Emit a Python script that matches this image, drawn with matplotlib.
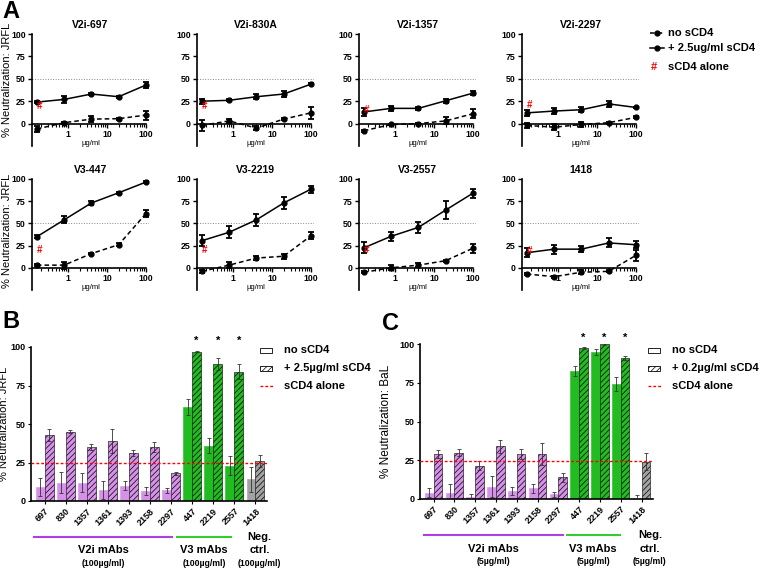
import matplotlib
matplotlib.use("Agg")
import matplotlib.pyplot as plt
import numpy as np
from matplotlib.lines import Line2D
from matplotlib.patches import Rectangle
from matplotlib.ticker import LogLocator, NullFormatter, FixedLocator, FixedFormatter
import matplotlib.transforms as mtrans

plt.rcParams['font.family'] = ['Liberation Sans', 'DejaVu Sans']
plt.rcParams['font.weight'] = 'bold'
plt.rcParams['hatch.linewidth'] = 0.5

# ---- panel A data ----
conc = [0.16, 0.8, 4, 20, 100]
titles = ['V2i-697', 'V2i-830A', 'V2i-1357', 'V2i-2297',
          'V3-447', 'V3-2219', 'V3-2557', '1418']
no_scd4 = [[-6, 1, 5, 5.5, 9.5],
           [-2, 3, -5, 5, 12],
           [-8, -1, 0, 3, 11],
           [-2, -4, -1, 1, 7],
           [3, 3, 16, 26, 61],
           [-4, 3, 11, 13, 36],
           [-5, 0, 3, 8, 22],
           [-7, -10, -5, -4, 14]]
no_scd4_err = [[3, 1, 3, 1, 5],
               [6, 2, 2, 1, 7],
               [1, 1, 1, 4, 5],
               [3, 3, 3, 1, 1],
               [1, 4, 1, 2, 4],
               [2, 3, 2, 3, 4],
               [1, 3, 2, 1, 5],
               [1, 1, 2, 1, 6]]
plus_scd4 = [[24, 27, 33, 30, 43],
             [25, 26, 30, 33, 44],
             [13, 17, 17, 25.5, 34],
             [12, 14, 15.5, 22, 18],
             [35, 54, 73, 84.5, 96.5],
             [30.5, 40, 54, 73, 88.5],
             [22.5, 35.5, 45.5, 65, 84],
             [17, 21, 21, 28, 26]]
plus_scd4_err = [[1, 4, 1, 1, 3],
                 [3, 1, 3, 3, 1],
                 [4, 3, 2, 2, 2],
                 [3, 3, 3, 3, 1],
                 [2, 4, 2, 1, 1],
                 [6, 7, 7, 7, 4],
                 [6, 5, 6, 10, 5],
                 [5, 5, 3, 5, 4]]
scd4_alone_a = [20, 20, 15, 21, 20, 19.5, 20, 19]

# ---- panel B / C data ----
mabs = ['697', '830', '1357', '1361', '1393', '2158', '2297',
        '447', '2219', '2557', '1418']
b_no = [9, 12, 12, 7, 10, 6.5, 7, 61, 36, 23, 14]
b_no_err = [6, 7, 6, 6, 3, 2.5, 1.5, 5, 5, 6, 8]
b_plus = [43, 45, 35, 39, 31, 35, 18, 97, 89, 84, 26]
b_plus_err = [4, 0.8, 2, 8, 2, 3, 1, 0.5, 4, 5, 4]
b_alone = 24.5
c_no = [4, 4, 1, 8, 5, 7, 3, 82.5, 95, 74, 0]
c_no_err = [3, 6, 2.5, 7, 2.5, 3, 1.5, 3, 2, 4.5, 2.5]
c_plus = [29, 30, 21.5, 34, 29, 29, 14, 97.5, 100, 91, 24]
c_plus_err = [2.5, 2.5, 3, 4, 3, 7, 3, 0.5, 0.5, 1.5, 5.5]
c_alone = 24.5
star_idx = [7, 8, 9]

purple = '#d591e8'
green = '#22bb22'
gray = '#a3a3a3'
bar_colors = [purple] * 7 + [green] * 3 + [gray]

W, H = 760, 569
fig = plt.figure(figsize=(7.6, 5.69), dpi=100)


def fx(px):
    return px / W


def fy(py):
    return 1 - py / H


# ---------------- panel A ----------------
col_left = [32, 197, 359, 522]
row_top = [34, 179]
row_bot = [146, 290]
ylab_y = [0.59, 0.53]
for i, t in enumerate(titles):
    r, c = divmod(i, 4)
    ax = fig.add_axes([fx(col_left[c]), fy(row_bot[r]), fx(117),
                       (row_bot[r] - row_top[r]) / H])
    ax.set_xscale('log')
    ax.set_xlim(0.12, 120)
    ax.set_ylim(-25, 100)
    ax.spines['top'].set_visible(False)
    ax.spines['right'].set_visible(False)
    ax.spines['bottom'].set_position(('data', 0))
    ax.spines['bottom'].set_bounds(0.12, 100)
    ax.spines['left'].set_linewidth(1.2)
    ax.spines['bottom'].set_linewidth(1.2)
    ax.axhline(50, color='#888888', lw=0.7, ls=':', zorder=1)
    ax.errorbar(conc, no_scd4[i], yerr=no_scd4_err[i], color='black',
                lw=1.1, ls=(0, (3, 2)), marker='o', ms=3.5, capsize=2.2,
                elinewidth=1.3, capthick=1.3, clip_on=False, zorder=3)
    ax.errorbar(conc, plus_scd4[i], yerr=plus_scd4_err[i], color='black',
                lw=1.1, ls='-', marker='o', ms=3.5, capsize=2.2,
                elinewidth=1.3, capthick=1.3, clip_on=False, zorder=3)
    ax.text(0.185, scd4_alone_a[i], '#', color='red', fontsize=7,
            ha='center', va='center', zorder=4)
    ax.set_yticks([0, 25, 50, 75, 100])
    ax.xaxis.set_major_locator(FixedLocator([1, 10, 100]))
    ax.xaxis.set_major_formatter(FixedFormatter(['1', '10', '100']))
    ax.xaxis.set_minor_locator(LogLocator(base=10, subs=np.arange(2, 10)))
    ax.xaxis.set_minor_formatter(NullFormatter())
    ax.tick_params(axis='both', which='major', labelsize=6.3, length=3,
                   width=1, pad=1.5)
    ax.tick_params(axis='x', which='minor', length=2, width=0.8)
    ax.set_xlabel('µg/ml', fontsize=5.5, labelpad=1)
    ax.set_title(t, fontsize=7.5, fontweight='bold', pad=4)
    if c == 0:
        ax.set_ylabel('% Neutralization: JRFL', fontsize=8)
        ax.yaxis.set_label_coords(-0.17, ylab_y[r])

# panel A legend
leg_y = [33, 48, 67]
fig.add_artist(Line2D([fx(650), fx(664)], [fy(leg_y[0])] * 2, color='black',
                      lw=1.1, ls=(0, (3, 2)), transform=fig.transFigure))
fig.add_artist(Line2D([fx(657)], [fy(leg_y[0])], color='black', marker='o',
                      ms=3.5, transform=fig.transFigure))
fig.add_artist(Line2D([fx(650), fx(657), fx(664)], [fy(leg_y[1])] * 3,
                      color='black', lw=1.1, marker='o', ms=3.5,
                      markevery=[1], transform=fig.transFigure))
fig.text(fx(654), fy(leg_y[2]), '#', color='red', fontsize=8,
         ha='center', va='center')
for y, s in zip(leg_y, ['no sCD4', '+ 2.5ug/ml sCD4', 'sCD4 alone']):
    fig.text(fx(668), fy(y), s, fontsize=8, va='center', ha='left')


# ---------------- panels B and C ----------------
def bar_panel(rect, no, no_err, plus, plus_err, alone, ylabel, ylab_x, ylab_fs,
              dose, leg_x, leg_label, under):
    ax = fig.add_axes(rect)
    x = np.arange(len(mabs))
    w = 0.42
    ax.bar(x - w / 2, no, w, color=bar_colors, edgecolor=bar_colors,
           lw=0.4, zorder=2)
    ax.bar(x + w / 2, plus, w, color=bar_colors, edgecolor='black',
           lw=0.4, hatch='//////', zorder=2)
    ax.errorbar(x - w / 2, no, yerr=no_err, fmt='none', ecolor='#333333',
                elinewidth=0.6, capsize=1.5, capthick=0.6, zorder=3)
    ax.errorbar(x + w / 2, plus, yerr=plus_err, fmt='none', ecolor='#333333',
                elinewidth=0.6, capsize=1.5, capthick=0.6, zorder=3)
    ax.axhline(alone, color='red', lw=1, ls=(0, (2, 1.5)), zorder=4)
    for k in star_idx:
        ax.text(x[k] + w / 2, 101, '*', fontsize=8, ha='center', va='bottom')
    ax.set_xlim(-0.65, 10.55)
    ax.set_ylim(0, 100)
    ax.spines['top'].set_visible(False)
    ax.spines['right'].set_visible(False)
    ax.spines['left'].set_linewidth(1.2)
    ax.spines['bottom'].set_linewidth(1.2)
    ax.set_yticks([0, 25, 50, 75, 100])
    ax.set_xticks(x)
    ax.set_xticklabels(mabs, rotation=45, ha='right', rotation_mode='anchor')
    ax.tick_params(axis='both', labelsize=6.5, length=2.5, width=0.8, pad=1.5)
    ax.set_ylabel(ylabel, fontsize=ylab_fs)
    ax.yaxis.set_label_coords(ylab_x, 0.5)

    tr = mtrans.blended_transform_factory(ax.transData, ax.transAxes)
    (p0, p1), (g0, g1), nx = under
    ax.add_line(Line2D([p0, p1], [-0.235, -0.235], color='#b03ee0', lw=1.5,
                       transform=tr, clip_on=False))
    ax.add_line(Line2D([g0, g1], [-0.235, -0.235], color='#33cc33', lw=1.5,
                       transform=tr, clip_on=False))
    for xc, top in [((p0 + p1) / 2, 'V2i mAbs'), ((g0 + g1) / 2, 'V3 mAbs')]:
        ax.text(xc, -0.32, top, fontsize=8, ha='center', va='center',
                transform=tr)
        ax.text(xc, -0.405, dose, fontsize=6.3, ha='center', va='center',
                transform=tr)
    ax.text(nx, -0.235, 'Neg.', fontsize=8, ha='center', va='center',
            transform=tr)
    ax.text(nx, -0.32, 'ctrl.', fontsize=8, ha='center', va='center',
            transform=tr)
    ax.text(nx, -0.405, dose, fontsize=6.3, ha='center', va='center',
            transform=tr)

    # legend
    ly = [350, 368, 386]
    fig.add_artist(Rectangle((fx(leg_x), fy(ly[0]) - 2.5 / H), 12 / W, 5 / H,
                             facecolor='white', edgecolor='black', lw=0.6,
                             transform=fig.transFigure))
    fig.add_artist(Rectangle((fx(leg_x), fy(ly[1]) - 2.5 / H), 12 / W, 5 / H,
                             facecolor='white', edgecolor='black', lw=0.6,
                             hatch='//////', transform=fig.transFigure))
    fig.add_artist(Line2D([fx(leg_x), fx(leg_x + 14)], [fy(ly[2])] * 2,
                          color='red', lw=1, ls=(0, (2, 1.5)),
                          transform=fig.transFigure))
    for y, s in zip(ly, ['no sCD4', leg_label, 'sCD4 alone']):
        fig.text(fx(leg_x + 24), fy(y), s, fontsize=8, va='center')
    return ax


bar_panel([fx(31), fy(501), fx(236), 154 / H], b_no, b_no_err, b_plus,
          b_plus_err, b_alone, '% Neutralization: JRFL', -0.093, 8,
          '(100µg/ml)', 260, '+ 2.5µg/ml sCD4',
          ((-0.52, 6.05), (6.3, 8.85), 10.2))
bar_panel([fx(420), fy(499), fx(233), 155 / H], c_no, c_no_err, c_plus,
          c_plus_err, c_alone, '% Neutralization: BaL', -0.122, 8.5,
          '(5µg/ml)', 648, '+ 0.2µg/ml sCD4',
          ((-0.45, 6.2), (6.4, 8.95), 10.4))

# panel letters
fig.text(fx(2), fy(18), 'A', fontsize=17, fontweight='bold', va='baseline')
fig.text(fx(2), fy(328), 'B', fontsize=17, fontweight='bold', va='baseline')
fig.text(fx(382), fy(330), 'C', fontsize=17, fontweight='bold', va='baseline')

fig.savefig('out.png', dpi=100)
